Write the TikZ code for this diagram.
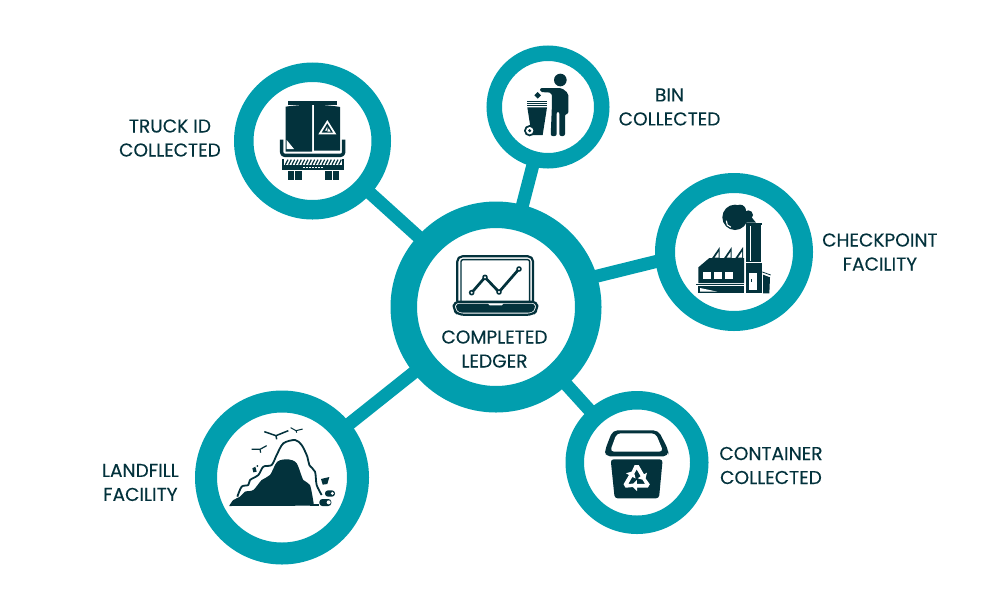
\documentclass[tikz,border=0pt]{standalone}
\usepackage{fontspec}
\setmainfont{Poppins}
\newfontfamily\captionfont{Poppins}[FakeBold=0.25]
\definecolor{teal}{RGB}{1,158,174}
\definecolor{ink}{RGB}{3,50,60}
\usetikzlibrary{
  positioning      % labels next to the rings
}
\tikzset{
    x=1pt, y=-1pt,
    node distance=13pt,
    ring/.style = {circle, draw=teal, fill=white},
    link/.style = {draw=teal, line width=13pt},
    caption/.style = {
        align=center,
        inner sep=0pt,
        text=ink,
        font=\captionfont\fontsize{18.6}{24}\selectfont
    },
    icon/.style = {fill=ink},
    iconline/.style = {draw=ink, line join=round},
    cut/.style = {fill=white}
}
\pgfdeclarelayer{background}
\pgfsetlayers{background,main}

\begin{document}
\begin{tikzpicture}
  \useasboundingbox (0,0) rectangle (1000,600);

  %% rings
  \node [ring, line width=26.5pt, minimum size=184.5pt] (ledger) at (496,307) {};
  \node [ring, line width=19.5pt, minimum size=137.5pt] (truck) at (312.5,141) {};
  \node [ring, line width=15.5pt, minimum size=107.5pt] (bin) at (548,107) {};
  \node [ring, line width=20pt, minimum size=138pt] (factory) at (734,252) {};
  \node [ring, line width=18.5pt, minimum size=124.5pt] (container) at (637,462.5) {};
  \node [ring, line width=22pt, minimum size=152pt] (landfill) at (282,477.5) {};

  %% connectors
  \begin{pgfonlayer}{background}
    \draw [link] (ledger.center) -- (truck.center);
    \draw [link] (ledger.center) -- (bin.center);
    \draw [link, shorten <=-8pt, shorten >=-8pt] (ledger.17) -- (factory.187);
    \draw [link] (ledger.center) -- (container.center);
    \draw [link] (ledger.center) -- (landfill.center);
  \end{pgfonlayer}

  %% captions
  \node [caption] (ledgertext) at (494.5,349) {COMPLETED\\LEDGER};
  \node [caption, left=of truck, yshift=3pt] (trucktext) {TRUCK ID\\COLLECTED};
  \node [caption, right=9pt of bin] (bintext) {BIN\\COLLECTED};
  \node [caption, right=9pt of factory] (factorytext) {CHECKPOINT\\FACILITY};
  \node [caption, right=10.7pt of container, yshift=-3pt] (containertext) {CONTAINER\\COLLECTED};
  \node [caption, left=16pt of landfill, yshift=-5pt] (landfilltext) {LANDFILL\\FACILITY};

  %% laptop
  \begin{scope}[shift={(370,190)}, scale=1/3]
    \draw [iconline, line width=2.2pt, rounded corners=5pt] (262,335) -- (262,199) -- (489,199) -- (489,335);
    \draw [iconline, line width=1.4pt, rounded corners=2pt] (273,333) -- (273,209) -- (479,209) -- (479,333);
    \draw [iconline, line width=2.2pt, fill=white, rounded corners=5pt] (251,335) -- (502,335) -- (502,360) -- (488,374) -- (265,374) -- (251,360) -- cycle;
    \fill [icon, rounded corners=3pt] (258,341) -- (495,341) -- (495,357) -- (485,368) -- (268,368) -- (258,357) -- cycle;
    \fill [cut] (354,341) -- (400,341) -- (395,346) -- (359,346) -- cycle;
    \draw [iconline, line width=2.7pt] (305,308) -- (345,262) -- (387,306) -- (447,237);
    \foreach \px/\py in {305/308,345/262,387/306,447/237}
      \draw [iconline, fill=white, line width=1.6pt] (\px,\py) circle (6);
  \end{scope}

  %% truck
  \begin{scope}[shift={(240,80)}, scale=1/3]
    \fill [icon] (145,63) rectangle (292,75);
    \fill [icon] (137,80) .. controls (170,75) and (195,75) .. (216,74) -- (216,215) -- (137,215) -- cycle;
    \fill [icon] (222,74) .. controls (250,75) and (280,77) .. (300,81) -- (300,212) -- (222,212) -- cycle;
    \fill [cut] (140,180) -- (140,207) -- (162,207) -- cycle;
    \fill [cut] (262,120) -- (235,163) -- (289,163) -- cycle;
    \fill [icon] (262,130) -- (245,158) -- (279,158) -- cycle;
    \fill [cut] (262,140) -- (255,152) -- (262,152) -- cycle;
    \fill [cut] (266,145) -- (272,155) -- (262,155) -- cycle;
    \draw [iconline, line width=3.4pt, rounded corners=3pt] (125,179) -- (125,226) -- (311,226) -- (311,179);
    \fill [icon] (126,237) rectangle (312,270);
    \fill [cut] (133,238) rectangle (305,255);
    \foreach \hx in {136,146,...,296}
      \draw [iconline, line width=1.2pt] (\hx,254) -- (\hx+8,239);
    \foreach \dx in {188,197,...,248}
      \fill [cut] (\dx,262) rectangle (\dx+6,265);
    \fill [icon] (143,272) rectangle (163,300);
    \fill [icon] (166,272) rectangle (186,300);
    \fill [icon] (255,272) rectangle (275,300);
    \fill [icon] (278,272) rectangle (298,300);
  \end{scope}

  %% person at the bin
  \begin{scope}[shift={(500,60)}, scale=1/3]
    \fill [icon] (181,60) circle (19);
    \fill [icon, rounded corners=2pt] (120,84) -- (185,84) -- (205,100) -- (205,162) -- (195,162) -- (195,228) -- (178,228) -- (178,155) -- (170,155) -- (170,228) -- (152,228) -- (156,130) -- (155,98) -- (120,96) -- cycle;
    \fill [icon] (113,96) -- (123,106) -- (113,116) -- (103,106) -- cycle;
    \fill [icon] (82,123) rectangle (140,126);
    \fill [icon] (82,129) rectangle (140,132);
    \fill [icon] (82,135) rectangle (140,138);
    \fill [icon] (82,142) -- (141,142) -- (128,225) -- (95,225) -- cycle;
    \fill [icon] (89,212) circle (17);
    \fill [cut] (89,212) circle (11);
    \fill [icon] (89,212) circle (5);
  \end{scope}

  %% factory
  \begin{scope}[shift={(680,190)}, scale=1/3]
    \fill [icon] (165,82) circle (38);
    \fill [icon] (180,62) circle (18);
    \fill [icon] (205,75) circle (14);
    \fill [icon] (205,70) -- (228,98) -- (200,98) -- (185,95) -- cycle;
    \draw [white, line width=1.1pt] (139,92) arc (190:100:17);
    \fill [icon] (197,99) rectangle (246,106);
    \fill [icon] (199,106) rectangle (243,215);
    \draw [white, line width=0.6pt] (212,108) -- (212,212);
    \fill [icon] (197,219) rectangle (246,310);
    \fill [cut] (208,248) rectangle (232,300);
    \fill [icon] (212,266) rectangle (216,276);
    \foreach \tx in {95,131,165} {
      \fill [icon] (\tx,206) -- (\tx+24,171) -- (\tx+24,206) -- cycle;
      \fill [cut] (\tx+9,203) -- (\tx+21,185) -- (\tx+21,203) -- cycle;
    }
    \fill [icon] (55,232) -- (88,204) -- (192,204) -- (192,279) -- (55,279) -- cycle;
    \fill [cut] (68,245) rectangle (92,268);
    \fill [cut] (102,245) rectangle (125,268);
    \fill [cut] (136,245) rectangle (160,268);
    \fill [icon] (48,281) rectangle (192,285);
    \fill [icon] (55,288) rectangle (192,310);
    \fill [cut] (60,294) -- (112,305) -- (60,305) -- cycle;
    \fill [icon] (249,254) -- (270,262) -- (268,310) -- (249,310) -- cycle;
    \draw [iconline, line width=0.8pt] (247,246) -- (272,255);
  \end{scope}

  %% bin with the recycling sign
  \begin{scope}[shift={(590,415)}, scale=1/3]
    \fill [icon, rounded corners=5pt] (68,46) -- (205,46) -- (235,105) -- (235,124) -- (45,124) -- (45,105) -- cycle;
    \fill [cut, rounded corners=4pt] (80,55) -- (197,55) -- (220,110) -- (60,110) -- cycle;
    \fill [icon, rounded corners=3pt] (62,133) -- (218,133) -- (207,250) -- (74,250) -- cycle;
    \foreach \turn in {0,120,240}
      \fill [cut, rotate around={\turn:(140,192)}] (124,172) -- (134,150) -- (146,150) -- (162,178) -- (171,173) -- (165,196) -- (143,190) -- (152,184) -- (140,163) -- (133,176) -- cycle;
  \end{scope}

  %% landfill
  \begin{scope}[shift={(220,415)}, scale=1/3]
    \fill [icon] (28,273) -- plot [smooth, tension=0.5] coordinates {(28,272) (40,255) (60,245) (75,230) (100,225) (125,195) (150,180) (172,140) (205,133) (230,145) (250,195) (270,210) (282,272)} -- cycle;
    \fill [icon] (270,268) rectangle (296,273);
    \draw [iconline, line width=1.8pt] plot [smooth, tension=0.5] coordinates {(52,245) (65,215) (85,210) (90,195) (115,180) (130,155) (155,150) (170,120) (190,85) (225,75) (245,90) (262,125) (268,150) (285,170) (290,210) (305,240)};
    %% birds
    \draw [iconline, line width=1.5pt] (133,50) -- (168,62) -- (205,47) (168,62) -- (170,73);
    \draw [iconline, line width=1.2pt] (95,103) -- (120,103) -- (140,92) (120,103) -- (122,113);
    \draw [iconline, line width=1pt] (212,38) -- (228,47) -- (248,42) (228,47) -- (230,53);
    %% scraps
    \fill [icon] (97,160) -- (106,155) -- (110,170) -- (100,172) -- cycle;
    \fill [icon] (112,153) circle (3);
    \fill [icon] (303,192) -- (328,186) -- (322,207) -- (308,209) -- cycle;
    \fill [icon, rounded corners=3pt] (315,226) rectangle (345,245);
    \fill [cut] (337,235) circle (5);
    \fill [icon, rounded corners=3pt] (298,252) rectangle (334,273);
    \fill [cut] (326,262) circle (6);
  \end{scope}

\end{tikzpicture}
\end{document}
